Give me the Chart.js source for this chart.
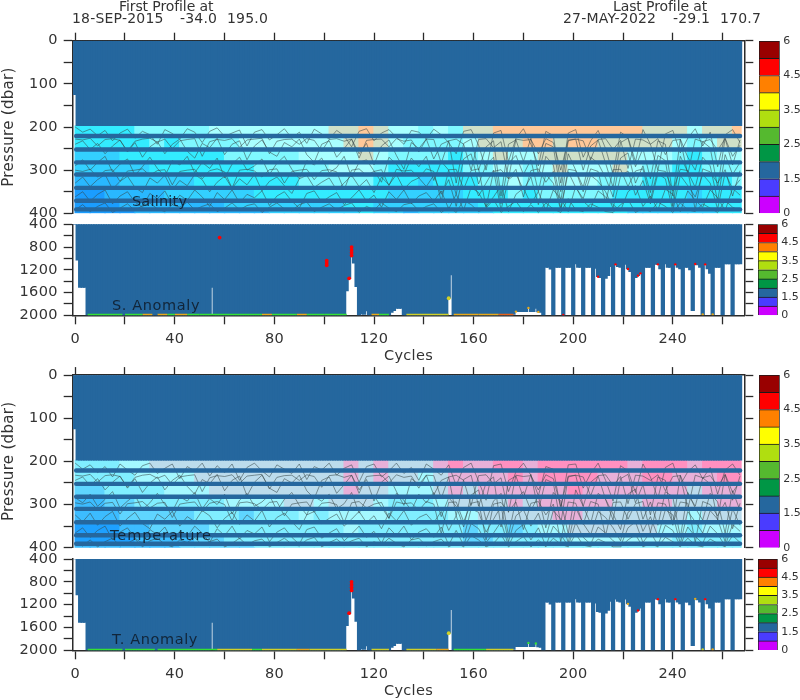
<!DOCTYPE html>
<html>
<head>
<meta charset="utf-8">
<title>Float profiles</title>
<script src="https://cdn.jsdelivr.net/npm/chart.js@4"></script>
<style>
  html, body { margin: 0; padding: 0; background: #fff; }
  #page { position: relative; width: 800px; height: 700px; overflow: hidden; filter: blur(0.35px); }
  canvas { position: absolute; }
  .head { position: absolute; font: 14px "DejaVu Sans", sans-serif; color: #333; white-space: pre; line-height: 14px; letter-spacing: 0.2px; }
</style>
</head>
<body>
<div id="page">
  <div class="head" style="left:119px;top:-1px;letter-spacing:-0.1px">First Profile at</div>
  <div class="head" style="left:72px;top:11px">18-SEP-2015</div>
  <div class="head" style="left:180px;top:11px">-34.0</div>
  <div class="head" style="left:227px;top:11px">195.0</div>
  <div class="head" style="left:613px;top:-1px;letter-spacing:-0.1px">Last Profile at</div>
  <div class="head" style="left:563px;top:11px">27-MAY-2022</div>
  <div class="head" style="left:673px;top:11px">-29.1</div>
  <div class="head" style="left:720px;top:11px">170.7</div>
</div>
<script>
// levels sampled in the upper panels (dark strips)
const stripLevels = [221, 252, 282, 310, 341, 371, 391];
const bandEdges = [197, 221, 252, 282, 310, 341, 371, 391, 400];

// field classes per 6 cycle column, one list per band
const salBandA = [3,3,3,3,4,4,4,4,4,5,5,5,5,5,5,5,5,6,6,7,6,5,5,4,5,4,6,6,7,7,7,7,7,7,7,7,7,7,6,6,6,5,6,6,7];
const salBandB = [3,3,3,3,3,4,3,4,4,4,4,5,5,5,5,5,5,5,6,7,6,5,4,4,4,4,5,6,6,6,7,7,6,7,7,6,6,6,6,6,5,4,5,6,6];
const salBandC = [2,2,2,3,3,3,3,3,3,3,4,4,4,4,4,5,5,5,5,6,5,4,4,4,4,3,4,5,6,5,5,6,6,6,6,6,6,5,5,5,4,3,4,5,5];
const salBandD = [2,2,2,2,2,3,3,3,3,3,3,3,4,4,4,4,4,5,5,5,4,3,3,3,3,3,4,4,5,5,4,5,6,5,5,5,6,5,4,4,3,3,4,4,4];
const salBandE = [1,1,1,2,2,2,2,2,3,3,3,3,3,3,3,4,4,4,4,4,3,3,3,2,3,3,3,4,4,5,4,4,5,5,5,4,4,4,3,3,3,3,3,3,4];
const salBandF = [0,0,1,1,1,1,2,2,2,2,2,2,3,3,3,3,3,3,3,3,3,2,2,2,2,2,3,3,3,4,3,4,4,4,4,4,3,3,3,3,3,2,3,3,3];
const salBandG = [0,0,0,1,1,1,1,1,1,1,2,2,2,2,2,2,2,2,3,3,2,2,2,2,2,2,2,3,3,3,3,3,3,3,3,3,3,3,3,3,2,2,3,3,3];
const salBandH = [0,0,0,0,1,1,1,1,1,1,1,1,1,2,2,2,2,2,2,3,2,2,1,2,2,2,2,2,3,3,3,3,3,3,3,3,3,2,2,2,2,2,2,3,3];

const tempBandA = [3,3,3,4,4,5,5,5,5,5,5,5,5,5,5,5,5,5,6,5,6,5,5,5,6,7,6,6,7,7,6,7,7,7,7,7,7,6,7,7,7,6,7,7,7];
const tempBandB = [3,3,3,3,4,4,4,4,5,5,5,5,5,5,5,5,5,5,6,5,6,5,5,4,5,6,6,6,6,7,6,7,7,7,7,6,6,6,7,7,6,6,6,7,7];
const tempBandC = [2,2,3,3,3,3,4,4,4,5,5,5,5,5,5,5,5,5,6,5,5,4,4,4,5,6,5,6,6,6,6,6,6,7,6,6,6,6,6,6,6,5,6,6,6];
const tempBandD = [1,1,2,2,3,3,3,3,3,3,4,4,4,4,5,5,4,5,5,5,4,3,3,3,4,5,5,5,5,6,5,6,6,6,6,6,5,5,6,6,5,5,5,6,6];
const tempBandE = [1,1,1,2,2,2,2,2,3,3,3,2,3,3,3,4,3,4,4,4,4,3,3,3,3,4,4,5,5,5,5,5,6,6,5,5,5,5,5,5,5,4,5,5,5];
const tempBandF = [0,0,0,1,1,2,2,2,2,3,3,3,3,3,3,3,3,3,4,3,3,3,3,3,3,3,2,3,3,2,3,4,4,5,5,5,5,5,5,4,4,3,4,4,4];
const tempBandG = [0,0,0,0,1,1,1,1,2,2,3,3,3,3,3,3,3,3,3,3,3,3,3,3,3,3,2,2,3,3,3,3,3,4,4,4,4,4,4,4,3,3,3,3,3];
const tempBandH = [1,1,1,1,1,1,1,2,2,2,2,2,3,3,3,3,3,3,3,3,3,3,3,3,3,3,3,3,3,3,3,3,3,3,3,3,3,3,3,3,3,3,3,3,3];

// contour lines, a reading every 3 cycles
const salContourA = [200,212,205,220,208,232,214,205,226,210,218,240,206,215,228,204,212,236,210,202,222,214,207,244,212,206,230,218,204,226,212,238,205,216,228,208,220,246,210,204,232,214,206,224,240,208,212,228,205,218,236,262,210,206,242,300,214,208,280,226,204,240,290,210,220,330,214,206,270,232,208,250,310,212,224,280,206,240,300,216,208,260,226,204,244,212,292,218,206,236];
const salContourB = [240,232,252,238,262,244,230,258,236,270,246,234,262,240,228,256,272,238,248,226,264,240,232,276,244,230,258,268,236,246,228,264,282,240,232,270,250,228,262,238,288,244,230,266,298,236,250,228,274,240,232,330,238,228,300,246,232,360,240,230,280,226,310,238,246,350,232,228,300,244,230,284,340,236,226,292,250,320,232,240,360,228,270,300,234,248,340,226,268,242];
const salContourC = [290,276,300,282,268,304,286,274,312,292,270,296,314,278,288,268,306,282,296,272,318,286,270,300,290,274,310,284,268,298,320,278,288,272,306,294,268,316,282,276,302,328,270,286,310,272,292,268,324,280,300,356,274,262,332,288,270,378,284,266,310,276,350,268,288,372,262,300,340,270,284,318,362,272,260,330,290,352,266,278,384,268,304,340,270,290,372,264,310,282];
const salContourD = [330,316,338,322,310,344,326,314,340,352,318,330,312,346,324,336,310,322,350,328,314,342,320,334,310,348,326,316,336,354,320,312,340,328,318,346,330,312,338,322,352,316,334,310,344,326,318,338,312,356,322,384,306,314,360,330,300,392,322,308,346,316,380,310,330,392,304,340,366,312,326,350,388,314,302,358,324,378,308,320,394,312,336,362,310,330,390,306,344,322];
const salContourE = [362,350,372,356,346,378,360,350,374,386,354,366,348,380,358,370,346,362,384,352,368,346,376,356,364,348,382,360,350,372,388,354,348,374,362,352,380,364,346,372,358,386,350,368,346,378,360,352,372,348,390,356,392,340,352,384,362,336,396,356,342,378,350,394,346,366,396,338,372,388,348,362,380,394,350,336,384,360,392,344,356,396,348,370,386,346,364,394,342,358];
const salContourF = [392,380,396,384,376,398,388,378,394,382,376,390,396,380,386,374,392,384,378,396,388,376,392,382,378,398,386,376,390,394,380,374,396,386,378,392,382,376,398,384,392,376,388,396,380,376,394,384,378,398,386,398,370,380,396,388,368,398,384,372,396,380,398,376,390,398,366,392,396,378,386,396,398,380,368,398,388,396,374,384,398,376,392,396,378,388,398,370,386,394];
const salContourG = [228,230,226,244,229,227,231,256,233,228,226,235,228,250,232,229,227,268,234,229,231,227,247,230,228,226,262,233,229,228,240,227,231,256,229,227,233,228,272,231,229,228,246,227,233,230,258,228,229,284,232,228,240,300,229,227,248,234,320,228,231,229,262,227,236,300,230,228,232,276,229,227,252,231,296,228,230,240,227,264,231,229,310,228,234,229,254,227,288,230];
const salContourH = [300,303,298,316,301,299,326,302,300,297,312,301,299,334,303,300,298,320,301,297,304,342,300,298,302,316,299,297,330,303,300,298,322,301,299,304,346,300,297,312,303,299,336,298,302,300,318,297,303,372,299,298,344,301,297,386,303,299,320,298,362,301,297,328,303,390,298,301,350,297,303,376,299,298,338,302,297,368,300,303,348,298,301,392,297,304,330,299,360,301];
const tempContourA = [204,218,208,226,212,236,206,220,232,210,204,228,216,206,240,212,222,204,234,210,226,206,244,214,204,222,236,208,218,228,206,242,212,220,204,232,216,208,248,212,206,236,222,204,228,214,244,206,218,232,208,256,214,204,246,290,210,206,270,224,204,232,280,212,218,310,208,206,262,228,204,244,292,210,222,272,206,236,286,214,204,254,224,208,240,214,276,220,206,232];
const tempContourB = [244,236,256,240,266,248,234,262,240,272,250,236,266,244,232,258,276,242,252,230,268,244,234,280,248,232,262,272,240,250,232,268,286,244,236,274,254,232,266,242,292,248,234,270,302,240,254,232,278,244,236,326,242,232,304,250,236,352,244,234,284,230,314,242,250,344,236,232,304,248,234,288,336,240,230,296,254,324,236,244,348,232,274,304,238,252,336,230,272,246];
const tempContourC = [284,296,276,304,288,270,308,292,278,312,296,274,300,316,282,292,272,310,286,300,276,322,290,274,304,294,278,314,288,272,302,324,282,292,276,310,298,272,320,286,280,306,332,274,290,314,276,296,272,328,284,304,352,278,266,336,292,274,372,288,270,314,280,354,272,292,368,266,304,344,274,288,322,358,276,264,334,294,348,270,282,376,272,308,336,274,294,366,268,314];
const tempContourD = [324,340,320,348,328,316,350,332,318,344,356,322,334,316,350,328,340,314,326,354,332,318,346,324,338,314,352,330,320,340,358,324,316,344,332,322,350,334,316,342,326,356,320,338,314,348,330,322,342,316,360,326,378,310,318,364,334,304,386,326,312,350,320,376,314,334,388,308,344,370,316,330,354,384,318,306,362,328,374,312,324,390,316,340,366,314,334,386,310,348];
const tempContourE = [366,354,376,360,350,382,364,354,378,390,358,370,352,384,362,374,350,366,388,356,372,350,380,360,368,352,386,364,354,376,392,358,352,378,366,356,384,368,350,376,362,390,354,372,350,382,364,356,376,352,394,360,394,344,356,388,366,340,396,360,346,382,354,396,350,370,396,342,376,392,352,366,384,396,354,340,388,364,394,348,360,396,352,374,390,350,368,396,346,362];
const tempContourF = [388,396,382,398,386,378,396,390,380,398,384,378,392,398,382,388,376,394,386,380,398,390,378,394,384,380,398,388,378,392,396,382,376,398,388,380,394,384,378,398,386,394,378,390,398,382,378,396,386,380,398,388,398,372,382,398,390,370,398,386,374,398,382,398,378,392,398,368,394,398,380,388,398,398,382,370,398,390,398,376,386,398,378,394,398,380,390,398,372,388];
const tempContourG = [232,234,230,248,233,231,235,260,237,232,230,239,232,254,236,233,231,270,238,233,235,231,251,234,232,230,264,237,233,232,244,231,235,260,233,231,237,232,274,235,233,232,250,231,237,234,262,232,233,286,236,232,244,302,233,231,252,238,318,232,235,233,266,231,240,304,234,232,236,280,233,231,256,235,298,232,234,244,231,268,235,233,312,232,238,233,258,231,290,234];
const tempContourH = [296,299,294,312,297,295,322,298,296,293,308,297,295,330,299,296,294,316,297,293,300,338,296,294,298,312,295,293,326,299,296,294,318,297,295,300,342,296,293,308,299,295,332,294,298,296,314,293,299,368,295,294,340,297,293,382,299,295,316,294,358,297,293,324,299,386,294,297,346,293,299,372,295,294,334,298,293,364,296,299,344,294,297,388,293,300,326,295,356,297];

// deepest reading per cycle, as runs: a run lasts until the next start
const depthRunStart = [0,1,2,5,55,56,109,110,111,112,113,114,115,116,117,118,127,128,129,132,150,151,152,176,177,182,183,185,186,187,188,189,191,192,193,196,197,200,201,202,204,205,208,209,210,211,212,213,214,215,216,217,218,219,220,221,222,223,224,225,226,227,228,229,232,233,235,236,237,238,240,241,242,243,244,245,247,248,249,250,251,252,253,254,255,256,257,260,261,264,265];
const depthRunBottom = [400,1030,1510,2000,1510,2000,1570,1350,970,1085,1495,2000,1975,1985,1925,2000,1950,1920,1880,2000,1700,1290,2000,1985,1935,1870,1935,1880,1940,1950,2000,1157,1190,2000,1157,2000,1157,2000,1098,1157,2000,1157,2000,1174,1321,1338,2000,1350,1303,1145,2000,1104,1145,1157,2000,1104,1186,1233,2000,1338,1303,1262,2000,1157,2000,1104,1186,2000,1098,1157,2000,1104,1157,1186,2000,1157,1204,1920,1098,1116,1157,1990,1104,1186,1262,1990,1157,2000,1098,2000,1098];

// bottom row of the anomaly panels, coloured runs
const salBottomStart = [5,19,20,27,31,33,37,40,45,50,75,79,89,93,100,119,122,133,152,162,170];
const salBottomEnd = [19,20,27,31,33,37,40,45,50,75,79,89,93,100,109,122,126,150,162,170,176];
const salBottomClass = [0,2,0,1,2,1,0,1,0,0,1,0,1,0,0,1,0,3,1,1,4];
const tempBottomStart = [5,19,20,32,33,57,71,75,89,94,119,133,145,152,165];
const tempBottomEnd = [19,20,32,33,57,71,75,89,94,109,126,145,150,165,176];
const tempBottomClass = [0,2,0,2,0,3,0,3,1,3,3,3,1,0,3];

// marked readings
const salMarkCycles = [0,58,101,101,101,111,111,111,111,110,150,196,210,217,222,226,227,234,241,249,253,252,256,177,182,186];
const salMarkPress = [10,634,1040,1080,1120,800,850,900,950,1350,1700,1995,1321,1104,1186,1303,1262,1104,1104,1098,1104,1985,1985,1935,1870,1940];
const salMarkClass = [5,5,5,5,5,5,5,5,5,5,3,5,5,5,5,5,5,5,5,5,5,1,1,1,1,1];
const tempMarkCycles = [111,111,111,111,110,150,182,185,226,234,241,249,253,252,256,222];
const tempMarkPress = [800,850,900,950,1350,1700,1870,1880,1303,1104,1104,1098,1104,1985,1985,1186];
const tempMarkClass = [5,5,5,5,5,3,0,0,5,5,5,1,5,3,1,1];

// colour bar
const colorbarCells = [1,1,1,1,1,1,1,1,1,1];
const colorbarLabels = ['0','1.5','2.5','3.5','4.5','6'];

const salFieldColors = ['#1a9dff','#29b8ff','#33d0ff','#33ebff','#7ff8ff','#a8ffff','#cfe0c8','#ffc899'];
const tempFieldColors = ['#1ea0ff','#3cbcff','#5fd5ff','#80eeff','#a4f8ff','#bcdcec','#e8b0d8','#ff90c0'];
const cellColors = ['#cc00ff','#4a3cff','#25679e','#009645','#55b92f','#b0de10','#ffff00','#ff8000','#ff0000','#990000'];
const bottomColors = ['#35e035','#e8a818','#25679e','#d0d028','#e86018','#ff0000'];
const BLUE = '#25679e';
const INK = '#2a2a2a';
const FONT = '"DejaVu Sans", sans-serif';

const CYCLE_MIN = -1, CYCLE_MAX = 268.7, LAST_CYCLE = 267;
const PLOT_LEFT = 72.7, PLOT_RIGHT = 744.3, CANVAS_W = 760;

function bottomFor(cycle) {
  let b = depthRunBottom[0];
  for (let i = 0; i < depthRunStart.length; i++) {
    if (depthRunStart[i] <= cycle) b = depthRunBottom[i];
  }
  return b;
}

function allCycles() {
  let out = [];
  for (let c = 0; c <= LAST_CYCLE; c++) out.push(c);
  return out;
}

function addCanvas(left, top, width, height) {
  const c = document.createElement('canvas');
  c.width = width;
  c.height = height;
  c.style.left = left + 'px';
  c.style.top = top + 'px';
  c.style.width = width + 'px';
  c.style.height = height + 'px';
  document.getElementById('page').appendChild(c);
  return c;
}

// text inside a panel, placed on its own scales
const labelPlugin = {
  id: 'panelLabel',
  beforeDraw(chart) {
    chart.ctx.letterSpacing = '0.3px';
  },
  afterDraw(chart, args, opts) {
    const ctx = chart.ctx;
    ctx.save();
    ctx.font = '14.5px ' + FONT;
    ctx.letterSpacing = opts.spacing + 'px';
    ctx.fillStyle = 'rgba(15,30,45,0.9)';
    ctx.textBaseline = 'middle';
    ctx.fillText(opts.text, chart.scales.x.getPixelForValue(opts.cycle), chart.scales.y.getPixelForValue(opts.press));
    ctx.restore();
  }
};

function baseScales(yMin, yMax, yStep, yLabelEvery, showBottom, title) {
  const tickLine = { drawOnChartArea: false, drawTicks: true, tickLength: 9, tickColor: INK, tickWidth: 1.3 };
  const edge = { display: true, color: INK, width: 1.5 };
  const scales = {
    y: {
      type: 'linear', min: yMin, max: yMax, reverse: true, position: 'left',
      afterFit: s => { s.width = PLOT_LEFT; },
      grid: tickLine, border: edge,
      title: title ? { display: true, text: title, color: '#333', font: { family: FONT, size: 15 }, padding: { top: 0, bottom: 0 } } : { display: false },
      ticks: {
        stepSize: yStep, includeBounds: false, autoSkip: false, maxRotation: 0, padding: 6,
        color: '#333', font: { family: FONT, size: 14.5 },
        callback: v => (v % yLabelEvery === 0 ? String(v) : '')
      }
    },
    yR: {
      type: 'linear', min: yMin, max: yMax, reverse: true, position: 'right',
      afterFit: s => { s.width = CANVAS_W - PLOT_RIGHT; },
      grid: tickLine, border: edge,
      ticks: { stepSize: yStep, includeBounds: false, display: false }
    },
    x: {
      type: 'linear', min: CYCLE_MIN, max: CYCLE_MAX, offset: false, display: showBottom, position: 'bottom',
      afterFit: s => { if (showBottom) s.height = 49.7; },
      grid: { offset: false, drawOnChartArea: false, drawTicks: true, tickLength: 9, tickColor: INK, tickWidth: 1.3 },
      border: edge,
      title: { display: true, text: 'Cycles', color: '#333', font: { family: FONT, size: 14.5 }, padding: { top: 0, bottom: 0 } },
      ticks: {
        stepSize: 20, includeBounds: false, autoSkip: false, maxRotation: 0, padding: 6,
        color: '#333', font: { family: FONT, size: 14.5 },
        callback: v => (v % 40 === 0 ? String(v) : '')
      }
    }
  };
  return scales;
}

function upperPanel(canvasTop, canvasBottom, plotTop, plotBottom, bands, contours, fieldColors) {
  const canvas = addCanvas(0, canvasTop, CANVAS_W, canvasBottom - canvasTop);
  const datasets = [];

  // blue block of densely sampled levels
  const cycles = allCycles();
  datasets.push({
    type: 'bar', order: 2, grouped: false, barThickness: 3.6, backgroundColor: BLUE,
    data: cycles.map(c => ({ x: c, y: [0, c === 0 ? 125 : bandEdges[0]] }))
  });

  stripLevels.forEach(level => {
    datasets.push({
      type: 'line', order: 3, borderColor: BLUE, borderWidth: 4.4, borderCapStyle: 'round', pointRadius: 0,
      data: [{ x: 0.4, y: level }, { x: LAST_CYCLE, y: level }]
    });
  });

  contours.forEach(list => {
    datasets.push({
      type: 'line', order: 4, borderColor: 'rgba(55,70,72,0.62)', borderWidth: 0.9, pointRadius: 0, tension: 0,
      data: list.map((p, i) => ({ x: i * 3, y: p }))
    });
  });

  bands.forEach((band, b) => {
    datasets.push({
      type: 'bar', order: 5, grouped: false, barThickness: 15.6,
      backgroundColor: band.map(k => fieldColors[k]),
      clip: { left: 0, top: 0, right: -2.6, bottom: 0 },
      data: band.map((k, i) => ({ x: i * 6 + 3, y: [bandEdges[b], bandEdges[b + 1]] }))
    });
  });

  const scales = baseScales(0, 400, 50, 100, false, 'Pressure (dbar)');
  scales.xTop = {
    type: 'linear', min: CYCLE_MIN, max: CYCLE_MAX, position: 'top', offset: false,
    afterFit: s => { s.height = plotTop - canvasTop; },
    grid: { offset: false, drawOnChartArea: false, drawTicks: true, tickLength: 8, tickColor: INK, tickWidth: 1.3 },
    border: { display: true, color: INK, width: 1.5 },
    ticks: { stepSize: 20, includeBounds: false, display: false }
  };
  return { canvas, datasets, scales, pad: { top: 0, bottom: canvasBottom - plotBottom, left: 0, right: 0 } };
}

function lowerPanel(canvasTop, canvasBottom, plotTop, bottomStart, bottomEnd, bottomClass, markCycles, markPress, markClass) {
  const canvas = addCanvas(0, canvasTop, CANVAS_W, canvasBottom - canvasTop);
  const datasets = [];

  datasets.push({
    type: 'scatter', order: 1, pointBorderWidth: 0,
    pointRadius: markCycles.map(c => (c > 175 ? 1.2 : 1.9)),
    pointBackgroundColor: markClass.map(k => bottomColors[k]),
    data: markCycles.map((c, i) => ({ x: c, y: markPress[i] }))
  });

  bottomStart.forEach((s, i) => {
    datasets.push({
      type: 'line', order: 2, borderColor: bottomColors[bottomClass[i]], borderWidth: 1.8, pointRadius: 0,
      data: [{ x: s, y: 1990 }, { x: bottomEnd[i], y: 1990 }]
    });
  });

  datasets.push({
    type: 'bar', order: 3, grouped: false, barThickness: 3.6, backgroundColor: BLUE,
    data: allCycles().map(c => ({ x: c, y: [400, bottomFor(c)] }))
  });

  const scales = baseScales(400, 2000, 200, 400, true, '');
  return { canvas, datasets, scales, pad: { top: plotTop - canvasTop, bottom: 0, left: 0, right: 0 } };
}

function drawPanel(p, label) {
  new Chart(p.canvas, {
    type: 'bar',
    data: { datasets: p.datasets },
    options: {
      responsive: false,
      animation: false,
      events: [],
      layout: { autoPadding: false, padding: p.pad },
      plugins: { legend: { display: false }, tooltip: { enabled: false }, panelLabel: label },
      scales: p.scales
    },
    plugins: [labelPlugin]
  });
}

function drawColorbar(top, bottom, barLeft, barRight) {
  const canvasTop = Math.floor(top) - 20;
  const canvasBottom = Math.ceil(bottom) + 20;
  const canvas = addCanvas(745, canvasTop, 55, canvasBottom - canvasTop);
  new Chart(canvas, {
    type: 'bar',
    data: {
      labels: [''],
      datasets: colorbarCells.map((cell, i) => ({
        data: [cell], backgroundColor: cellColors[i], borderColor: '#1a1a1a', borderWidth: 1,
        categoryPercentage: 1, barPercentage: 1
      }))
    },
    options: {
      responsive: false,
      animation: false,
      events: [],
      layout: { autoPadding: false, padding: { top: top - canvasTop, bottom: canvasBottom - bottom, left: barLeft - 745, right: 0 } },
      plugins: { legend: { display: false }, tooltip: { enabled: false } },
      scales: {
        x: { stacked: true, display: false },
        y: {
          stacked: true, position: 'right', min: 0, max: 10,
          afterFit: s => { s.width = 800 - barRight; },
          grid: { display: false, drawTicks: false }, border: { display: false },
          ticks: {
            stepSize: 2, includeBounds: false, padding: 3.5, color: '#333', font: { family: FONT, size: 11 },
            callback: v => colorbarLabels[v / 2]
          }
        }
      }
    }
  });
}

const salBands = [salBandA, salBandB, salBandC, salBandD, salBandE, salBandF, salBandG, salBandH];
const tempBands = [tempBandA, tempBandB, tempBandC, tempBandD, tempBandE, tempBandF, tempBandG, tempBandH];
const salContours = [salContourA, salContourB, salContourC, salContourD, salContourE, salContourF, salContourG, salContourH];
const tempContours = [tempContourA, tempContourB, tempContourC, tempContourD, tempContourE, tempContourF, tempContourG, tempContourH];

drawPanel(upperPanel(20, 236, 40.7, 213.3, salBands, salContours, salFieldColors), { text: 'Salinity', cycle: 22.8, press: 374, spacing: 0.2 });
drawPanel(lowerPanel(204, 365, 224.3, salBottomStart, salBottomEnd, salBottomClass, salMarkCycles, salMarkPress, salMarkClass), { text: 'S. Anomaly', cycle: 14.8, press: 1832, spacing: 0.6 });
drawPanel(upperPanel(355, 570, 375.1, 547.7, tempBands, tempContours, tempFieldColors), { text: 'Temperature', cycle: 14, press: 373, spacing: 0.9 });
drawPanel(lowerPanel(539, 700, 559, tempBottomStart, tempBottomEnd, tempBottomClass, tempMarkCycles, tempMarkPress, tempMarkClass), { text: 'T. Anomaly', cycle: 14.8, press: 1824, spacing: 0.6 });

drawColorbar(41, 213.3, 759, 779.7);
drawColorbar(224.3, 315.3, 758, 777.7);
drawColorbar(375.1, 547.7, 759, 779.7);
drawColorbar(559, 650, 758, 777.7);
</script>
</body>
</html>
